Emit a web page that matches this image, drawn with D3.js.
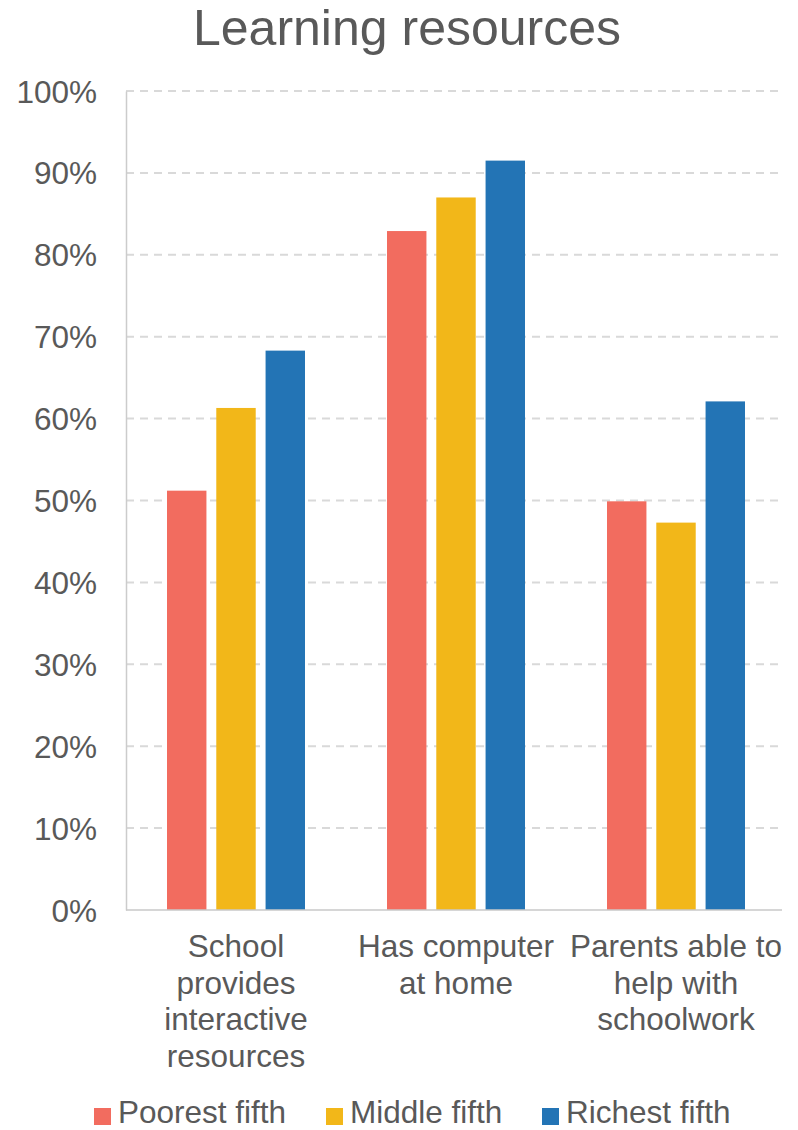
<!DOCTYPE html>
<html>
<head>
<meta charset="utf-8">
<script src="https://cdn.jsdelivr.net/npm/d3@7"></script>
<style>
  body { margin: 0; background: #fff; }
  svg text { font-family: "Liberation Sans", Arial, sans-serif; fill: #595959; }
</style>
</head>
<body>
<div id="chart"></div>
<script>
var title = "Learning resources";
var categories = [
  ["School", "provides", "interactive", "resources"],
  ["Has computer", "at home"],
  ["Parents able to", "help with", "schoolwork"]
];
var seriesNames = ["Poorest fifth", "Middle fifth", "Richest fifth"];
var poorest = [51.2, 82.9, 49.9];
var middle = [61.3, 87.0, 47.3];
var richest = [68.3, 91.5, 62.1];
var yTicks = [0, 10, 20, 30, 40, 50, 60, 70, 80, 90, 100];
var colors = ["#F26C5F", "#F2B719", "#2374B5"];

var width = 798, height = 1130;
var margin = { top: 91, right: 12, bottom: 220, left: 126 };
var innerW = width - margin.left - margin.right,
  innerH = height - margin.top - margin.bottom;

var series = [poorest, middle, richest];

var svg = d3.select("#chart")
  .append("svg")
  .attr("width", width)
  .attr("height", height);

svg.append("text")
  .attr("x", 407)
  .attr("y", 45)
  .attr("text-anchor", "middle")
  .style("font-size", "50px")
  .text(title);

var g = svg.append("g")
  .attr("transform", "translate(" + margin.left + "," + margin.top + ")");

var x0 = d3.scaleBand()
  .domain(d3.range(categories.length))
  .range([0, innerW])
  .paddingInner(0)
  .paddingOuter(0);

var x1 = d3.scaleBand()
  .domain(d3.range(series.length))
  .range([41, x0.bandwidth() - 41])
  .paddingInner(0.2);

var y = d3.scaleLinear()
  .domain([0, 100])
  .range([innerH, 0]);

// gridlines
g.selectAll(".grid")
  .data(yTicks.filter(function(d) { return d > 0; }))
  .enter().append("line")
  .attr("x1", 0)
  .attr("x2", innerW - 4)
  .attr("y1", function(d) { return y(d); })
  .attr("y2", function(d) { return y(d); })
  .attr("stroke", "#d9d9d9")
  .attr("stroke-width", 2)
  .attr("stroke-dasharray", "8,6");

// y axis
var yAxis = d3.axisLeft(y)
  .tickValues(yTicks)
  .tickSize(0)
  .tickPadding(29)
  .tickFormat(function(d) { return d + "%"; });

var ya = g.append("g").call(yAxis);
ya.select(".domain").attr("stroke", "#cccccc").attr("stroke-width", 1.5);
ya.selectAll("text")
  .style("font-size", "31.5px")
  .attr("dy", "0.35em")
  .attr("fill", "#595959");

// bars
var groups = g.selectAll(".group")
  .data(categories)
  .enter().append("g")
  .attr("transform", function(d, i) { return "translate(" + x0(i) + ",0)"; });

groups.selectAll("rect")
  .data(function(d, i) {
    return series.map(function(s, j) { return { s: j, v: s[i] }; });
  })
  .enter().append("rect")
  .attr("x", function(d) { return x1(d.s); })
  .attr("width", x1.bandwidth())
  .attr("y", function(d) { return y(d.v); })
  .attr("height", function(d) { return innerH - y(d.v); })
  .attr("fill", function(d) { return colors[d.s]; });

// x axis line
g.append("line")
  .attr("x1", 0)
  .attr("x2", innerW - 4)
  .attr("y1", innerH)
  .attr("y2", innerH)
  .attr("stroke", "#c8c8c8")
  .attr("stroke-width", 1.5);

// category labels
groups.append("text")
  .attr("text-anchor", "middle")
  .style("font-size", "31.5px")
  .selectAll("tspan")
  .data(function(d) { return d; })
  .enter().append("tspan")
  .attr("x", x0.bandwidth() / 2)
  .attr("y", function(d, i) { return innerH + 47 + i * 36.7; })
  .text(function(d) { return d; });

// legend
var legendX = [94, 326, 542];
var legend = svg.selectAll(".legend")
  .data(seriesNames)
  .enter().append("g")
  .attr("transform", function(d, i) { return "translate(" + legendX[i] + ",1123)"; });

legend.append("rect")
  .attr("x", 0)
  .attr("y", -15)
  .attr("width", 17)
  .attr("height", 17)
  .attr("fill", function(d, i) { return colors[i]; });

legend.append("text")
  .attr("x", 24)
  .attr("y", 0)
  .style("font-size", "31.5px")
  .text(function(d) { return d; });
</script>
</body>
</html>
